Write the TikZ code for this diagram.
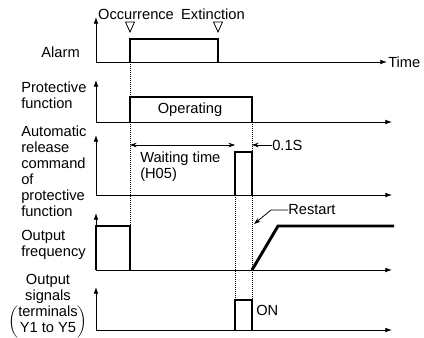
\documentclass[tikz,border=0pt]{standalone}
\usepackage{fontspec}
\setmainfont{Liberation Sans}
\usetikzlibrary{arrows.meta,positioning}
\tikzset{
    axis/.style={-{Latex[length=5pt,width=3.5pt]},line width=0.6pt},
    signal/.style={line width=2.2pt},
    guide/.style={densely dotted,line width=0.5pt},
    arrow/.style={-{Stealth[length=5pt,width=3.5pt]},line width=0.6pt},
    dimarrow/.style={{Stealth[length=5pt,width=3.5pt]}-{Stealth[length=5pt,width=3.5pt]},line width=0.6pt},
    label/.style={font=\fontsize{11}{12}\selectfont, inner sep=0pt},
    marker/.style={line width=0.6pt, line join=miter}
}

\begin{document}
\begin{tikzpicture}[x=0.75pt,y=-0.75pt]
\useasboundingbox (0,0) rectangle (424,337);

% Row labels (left side)
\node[label, anchor=east] (alarm_lbl) at (80,52) {Alarm};
\node[label, anchor=west, align=left] (prot_lbl) at (21,95.5) {Protective\\function};
\node[label, anchor=west, align=left] (auto_lbl) at (21,171) {Automatic\\release\\command\\of\\protective\\function};
\node[label, anchor=west, align=left] (freq_lbl) at (21,244.5) {Output\\frequency};
\node[label, align=center] (sig_lbl) at (48,289) {Output\\signals};
\node[label, below=1pt of sig_lbl] (sig_term) {$\left(\vcenter{\hbox{\begin{tabular}{@{}c@{}}terminals\\Y1 to Y5\end{tabular}}}\right)$};

% Axes
\foreach \name/\base/\top/\stop in {alarm/62/17/387, prot/122/80/392, auto/195/135/392, freq/270/213/392, sig/330/287/392}{
    \coordinate (\name_top) at (96,\top);
    \coordinate (\name_o) at (96,\base);
    \coordinate (\name_end) at (\stop,\base);
    \draw[axis] (\name_o) -- (\name_top);
    \draw[axis] (\name_o) -- (\name_end);
}
\node[label, anchor=west] (time_lbl) at (388,62) {Time};

% Dotted guide lines
\draw[guide] (130,62) -- (130,226);
\draw[guide] (235,195) -- (235,300);
\draw[guide] (252,122) -- (252,300);

% Alarm
\node[label] (occ) at (136,14) {Occurrence};
\node[label] (ext) at (213,14) {Extinction};
\coordinate (occ_mark) at (130,27);
\coordinate (ext_mark) at (218,27);
\foreach \m in {occ_mark, ext_mark}
    \draw[marker] (\m) ++(-4.5,-5) -- ++(9,0) -- ++(-4.5,10) -- cycle;
\draw[signal] (130,62) -- (130,39) -- (218,39) -- (218,62);

% Protective function
\draw[signal] (130,122) -- (130,97) -- (252,97) -- (252,122);
\node[label] (operating) at (190,110) {Operating};

% Automatic release command
\draw[signal] (235,195) -- (235,152) -- (252,152) -- (252,195);
\coordinate (wait_l) at (130,145);
\coordinate (wait_r) at (235,145);
\draw[dimarrow] (wait_l) -- (wait_r);
\node[label, anchor=north west, align=left] (wait_lbl) at (140,152) {Waiting time\\(H05)};
\node[label, anchor=west] (pulse_lbl) at (272,145) {0.1S};
\coordinate (pulse_tip) at (252,145);
\draw[arrow] (pulse_lbl.west) -- (pulse_tip);

% Output frequency
\draw[signal] (96,270) -- (96,226) -- (130,226) -- (130,270);
\draw[signal] (252,270) -- (278,226) -- (394,226);
\node[label, anchor=west] (restart) at (288,210) {Restart};
\coordinate (restart_tip) at (254,224);
\draw[arrow] (restart.west) -- ++(-17,0) -- (restart_tip);

% Output signals
\draw[signal] (235,330) -- (235,300) -- (252,300) -- (252,330);
\node[label, anchor=west] (on_lbl) at (256,310) {ON};

\end{tikzpicture}
\end{document}
